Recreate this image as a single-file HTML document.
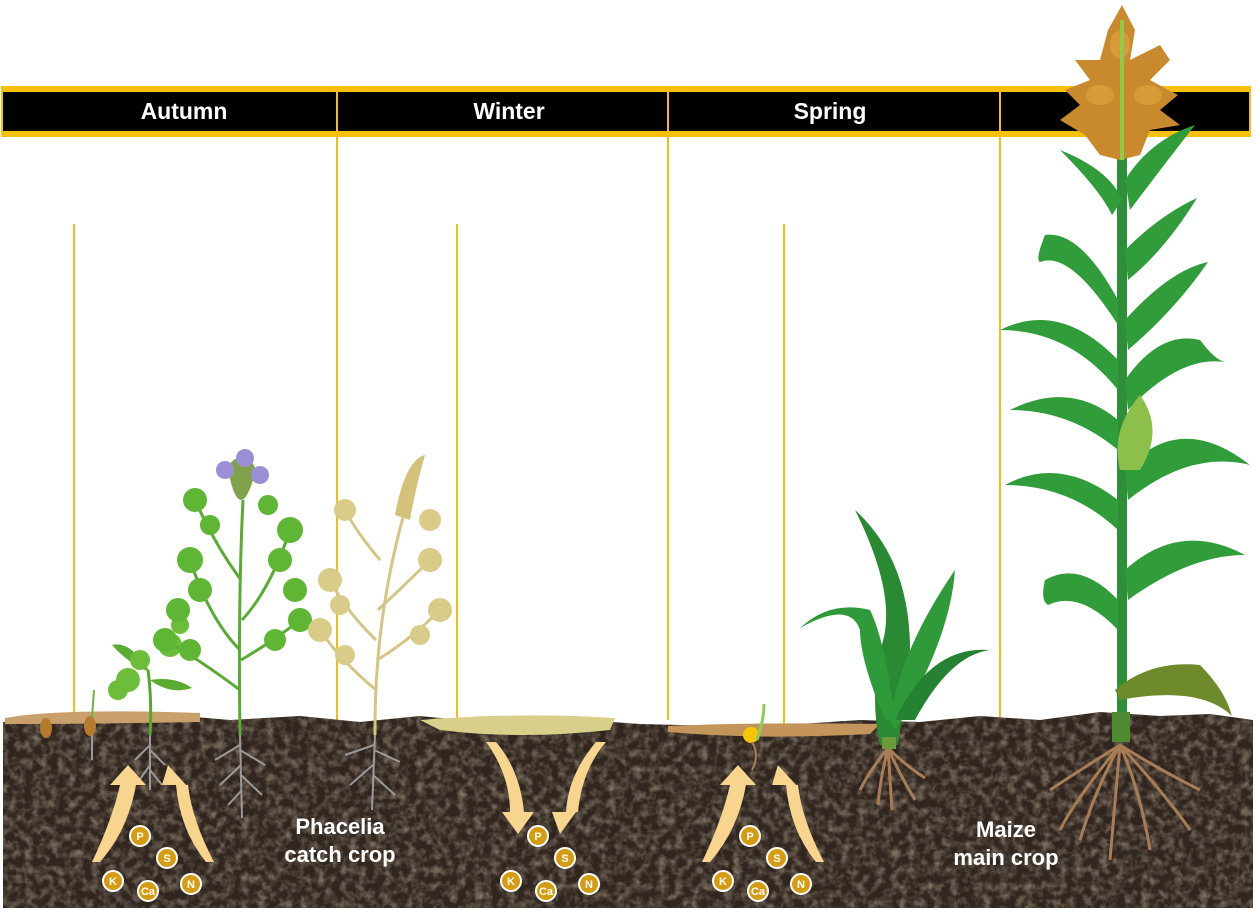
<!DOCTYPE html>
<html><head><meta charset="utf-8"><style>
html,body{margin:0;padding:0;background:#fff;width:1256px;height:911px;overflow:hidden}
svg{display:block}
text{font-family:"Liberation Sans",sans-serif;font-weight:bold}
</style></head><body>
<svg width="1256" height="911" viewBox="0 0 1256 911" xmlns="http://www.w3.org/2000/svg">
<defs>
<filter id="grain" x="0" y="0" width="100%" height="100%">
<feTurbulence type="fractalNoise" baseFrequency="0.12" numOctaves="4" seed="4"/>
<feColorMatrix values="0 0 0 0 0.30  0 0 0 0 0.24  0 0 0 0 0.18  0 0 0 1.8 -0.7"/>
</filter>
<clipPath id="soilclip"><path d="M3,722 L40,716 L100,718 L160,714 L230,720 L300,716 L360,722 L420,716 L480,722 L560,718 L640,724 L720,726 L800,724 L860,720 L920,722 L980,716 L1040,720 L1100,712 L1160,716 L1210,714 L1253,720 L1253,908 L3,908 Z"/></clipPath>
<g id="nut">
<circle cx="0" cy="0" r="10" fill="#d59c12" stroke="#fff" stroke-width="2"/>
</g>
</defs>
<!-- gold vertical lines -->
<g stroke="#f5bd0f" stroke-width="2">
<line x1="337" y1="92" x2="337" y2="720"/>
<line x1="668" y1="92" x2="668" y2="720"/>
<line x1="1000" y1="92" x2="1000" y2="720"/>
<line x1="74" y1="224" x2="74" y2="712"/>
<line x1="457" y1="224" x2="457" y2="720"/>
<line x1="784" y1="224" x2="784" y2="725"/>
</g>
<!-- header -->
<rect x="1" y="86" width="1250" height="51" fill="#f7bf0e"/>
<rect x="3" y="92" width="1246" height="39" fill="#000"/>
<g stroke="#f5bd0f" stroke-width="2"><line x1="337" y1="92" x2="337" y2="131"/><line x1="668" y1="92" x2="668" y2="131"/><line x1="1000" y1="92" x2="1000" y2="131"/></g>
<g fill="#fff" font-size="23" text-anchor="middle">
<text x="184" y="119">Autumn</text><text x="509" y="119">Winter</text><text x="830" y="119">Spring</text>
</g>
<!-- soil -->
<g clip-path="url(#soilclip)">
<rect x="3" y="700" width="1250" height="210" fill="#30261f"/>
<rect x="3" y="700" width="1250" height="210" filter="url(#grain)" opacity="0.9"/>
</g>
<!-- surface litter -->
<path d="M5,718 Q60,708 200,713 L200,722 Q80,724 5,724 Z" fill="#c9a06b"/>
<path d="M420,720 Q520,712 615,718 L610,730 Q520,740 440,730 Z" fill="#d8d08a"/>
<path d="M668,726 Q760,722 880,724 L870,734 Q760,740 668,732 Z" fill="#c4955a"/>
<!-- roots -->
<g stroke="#9a9a9a" stroke-width="2" fill="none">
<path d="M150,735 L150,790 M150,745 L135,760 M150,750 L165,765 M150,765 L138,782 M150,770 L162,785"/>
<path d="M240,735 L242,818 M240,745 L215,760 M240,750 L265,765 M241,765 L220,785 M241,775 L262,795 M242,790 L228,805"/>
<path d="M375,735 L372,810 M374,745 L345,755 M374,750 L400,762 M373,765 L350,785 M373,775 L395,795"/>
<path d="M92,730 L92,760"/>
</g>
<g stroke="#a87d55" stroke-width="3" fill="none">
<path d="M888,748 Q870,770 860,790 M888,748 Q880,780 878,805 M888,748 Q890,780 892,810 M888,748 Q900,775 915,800 M888,748 Q905,765 925,778"/>
<path d="M1120,745 Q1080,770 1050,790 M1120,745 Q1095,790 1080,840 M1120,745 Q1115,800 1110,860 M1120,745 Q1140,790 1150,850 M1120,745 Q1160,770 1200,790 M1120,745 Q1170,800 1190,830 M1120,745 Q1075,800 1060,830"/>
</g>
<!-- arrows -->
<g fill="#f8d58f">
<path d="M92,862 Q112,820 120,785 L110,785 L128,765 L146,785 L136,785 Q128,830 100,862 Z"/>
<path d="M206,862 Q180,830 176,785 L162,785 L168,765 L186,785 L188,785 Q192,820 214,862 Z"/>
<path d="M702,862 Q722,820 730,785 L720,785 L738,765 L756,785 L746,785 Q738,830 710,862 Z"/>
<path d="M816,862 Q790,830 786,785 L772,785 L778,765 L796,785 L798,785 Q802,820 824,862 Z"/>
<path d="M486,742 Q510,775 510,812 L502,812 L518,834 L534,812 L524,812 Q520,770 496,742 Z"/>
<path d="M596,742 Q568,775 566,812 L552,812 L560,834 L576,812 L578,812 Q582,770 606,742 Z"/>
</g>
<!-- nutrients -->
<g font-size="11" fill="#fff" text-anchor="middle">
<g><use href="#nut" x="140" y="836"/><text x="140" y="840">P</text><use href="#nut" x="167" y="858"/><text x="167" y="862">S</text><use href="#nut" x="113" y="881"/><text x="113" y="885">K</text><use href="#nut" x="148" y="891"/><text x="148" y="895">Ca</text><use href="#nut" x="191" y="884"/><text x="191" y="888">N</text></g>
<g transform="translate(398,0)"><use href="#nut" x="140" y="836"/><text x="140" y="840">P</text><use href="#nut" x="167" y="858"/><text x="167" y="862">S</text><use href="#nut" x="113" y="881"/><text x="113" y="885">K</text><use href="#nut" x="148" y="891"/><text x="148" y="895">Ca</text><use href="#nut" x="191" y="884"/><text x="191" y="888">N</text></g>
<g transform="translate(610,0)"><use href="#nut" x="140" y="836"/><text x="140" y="840">P</text><use href="#nut" x="167" y="858"/><text x="167" y="862">S</text><use href="#nut" x="113" y="881"/><text x="113" y="885">K</text><use href="#nut" x="148" y="891"/><text x="148" y="895">Ca</text><use href="#nut" x="191" y="884"/><text x="191" y="888">N</text></g>
</g>
<!-- labels -->
<g fill="#fff" font-size="22" text-anchor="middle">
<text x="340" y="834">Phacelia</text><text x="340" y="862">catch crop</text>
<text x="1006" y="837">Maize</text><text x="1006" y="865">main crop</text>
</g>
<!-- seeds -->
<ellipse cx="46" cy="728" rx="6" ry="10" fill="#b67a2e"/>
<ellipse cx="90" cy="726" rx="6" ry="10" fill="#b67a2e"/>
<path d="M92,718 L94,690" stroke="#6cb33f" stroke-width="2"/>
<!-- small seedling -->
<path d="M150,735 Q152,700 148,670" stroke="#58a52e" stroke-width="3" fill="none"/>
<path d="M150,672 Q130,640 112,645 Q130,665 150,672 Z M150,680 Q175,676 192,688 Q170,695 150,680 Z" fill="#5aab32"/>
<g fill="#6cbd3a"><circle cx="128" cy="680" r="12"/><circle cx="118" cy="690" r="10"/><circle cx="140" cy="660" r="10"/><circle cx="170" cy="645" r="12"/><circle cx="180" cy="625" r="9"/></g>
<!-- green phacelia -->
<g stroke="#5aab32" stroke-width="3" fill="none">
<path d="M240,735 Q238,600 243,500"/>
<path d="M240,650 Q210,620 190,560 M242,620 Q270,590 290,530 M241,580 Q215,545 195,500 M240,690 Q200,660 165,640 M241,660 Q275,640 300,620"/>
</g>
<g fill="#5fb534">
<circle cx="190" cy="560" r="13"/><circle cx="200" cy="590" r="12"/><circle cx="178" cy="610" r="12"/><circle cx="165" cy="640" r="12"/><circle cx="190" cy="650" r="11"/>
<circle cx="290" cy="530" r="13"/><circle cx="280" cy="560" r="12"/><circle cx="295" cy="590" r="12"/><circle cx="300" cy="620" r="12"/><circle cx="275" cy="640" r="11"/>
<circle cx="195" cy="500" r="12"/><circle cx="210" cy="525" r="10"/><circle cx="268" cy="505" r="10"/>
</g>
<path d="M228,470 Q240,530 256,470 Q250,455 242,460 Q232,455 228,470 Z" fill="#7fa24a"/>
<g fill="#9b8fd8"><circle cx="225" cy="470" r="9"/><circle cx="245" cy="458" r="9"/><circle cx="260" cy="475" r="9"/></g>
<!-- beige phacelia -->
<g stroke="#d4c582" stroke-width="3" fill="none">
<path d="M375,735 Q374,620 405,510"/>
<path d="M376,640 Q345,610 330,580 M378,610 Q410,580 430,560 M380,560 Q355,530 345,510 M376,690 Q340,660 320,630 M377,660 Q410,640 440,610"/>
</g>
<g fill="#d9cb88">
<circle cx="330" cy="580" r="12"/><circle cx="340" cy="605" r="10"/><circle cx="320" cy="630" r="12"/><circle cx="345" cy="655" r="10"/><circle cx="345" cy="510" r="11"/>
<circle cx="430" cy="560" r="12"/><circle cx="440" cy="610" r="12"/><circle cx="420" cy="635" r="10"/><circle cx="430" cy="520" r="11"/>
</g>
<path d="M395,515 Q405,460 425,455 Q415,490 410,520 Z" fill="#d4c17a"/>
<!-- sprouting corn seed -->
<circle cx="751" cy="735" r="8" fill="#f7c600"/>
<path d="M757,740 Q764,720 764,704" stroke="#8ccc5a" stroke-width="3" fill="none"/>
<path d="M752,742 Q760,755 752,770" stroke="#a87d55" stroke-width="2" fill="none"/>
<!-- young maize -->
<g fill="#2f9a3a">
<path d="M880,745 Q870,700 880,650 Q900,600 855,510 Q910,560 910,650 Q905,700 898,745 Z" fill="#2a8a33"/>
<path d="M890,720 Q900,650 955,570 Q950,640 895,730 Z"/>
<path d="M885,720 Q860,660 860,630 Q850,600 800,628 Q830,600 870,610 Q885,640 895,720 Z"/>
<path d="M895,720 Q930,645 990,650 Q950,655 915,720 Z" fill="#248232"/>
</g>
<rect x="882" y="737" width="14" height="12" fill="#6a9a3a"/>
<!-- big maize -->
<path d="M1117,740 L1117,140 L1127,140 L1127,740 Z" fill="#2e8f38"/>
<g fill="#319c3a">
<path d="M1122,200 Q1110,170 1060,150 Q1100,190 1112,215 Z"/>
<path d="M1125,180 Q1150,140 1195,125 Q1160,170 1130,210 Z"/>
<path d="M1118,300 Q1080,230 1045,235 Q1035,260 1040,262 Q1070,250 1118,325 Z"/>
<path d="M1125,250 Q1160,215 1197,198 Q1165,250 1128,280 Z"/>
<path d="M1118,360 Q1060,300 1000,330 Q1070,330 1118,390 Z"/>
<path d="M1125,320 Q1170,270 1208,262 Q1175,310 1128,350 Z"/>
<path d="M1118,420 Q1070,380 1010,410 Q1070,410 1118,450 Z"/>
<path d="M1125,380 Q1160,330 1200,340 Q1215,360 1225,362 Q1180,355 1128,410 Z"/>
<path d="M1118,500 Q1060,455 1005,485 Q1070,485 1118,530 Z"/>
<path d="M1125,470 Q1180,410 1250,465 Q1190,450 1128,500 Z"/>
<path d="M1118,600 Q1080,560 1045,580 Q1040,600 1048,605 Q1080,590 1118,630 Z"/>
<path d="M1125,570 Q1180,520 1245,555 Q1190,555 1128,600 Z"/>
</g>
<path d="M1115,690 Q1150,660 1200,665 Q1225,690 1232,716 Q1200,685 1120,700 Z" fill="#6e8a2a"/>
<path d="M1120,470 Q1110,430 1140,395 Q1165,430 1140,470 Z" fill="#8cc04a"/>
<rect x="1112" y="712" width="18" height="30" fill="#4e8a30"/>
<!-- tassel -->
<g fill="#c98a2e">
<path d="M1122,5 L1135,30 L1130,60 L1160,45 L1170,60 L1150,80 L1178,95 L1160,110 L1180,125 L1150,130 L1140,155 L1120,160 L1100,155 L1085,135 L1060,120 L1080,105 L1065,90 L1090,80 L1075,60 L1100,60 L1108,30 Z"/>
</g>
<g fill="#d99a3a"><ellipse cx="1100" cy="95" rx="14" ry="10"/><ellipse cx="1148" cy="95" rx="14" ry="10"/><ellipse cx="1120" cy="45" rx="10" ry="14"/></g>
<path d="M1122,20 L1122,160" stroke="#8ccc4a" stroke-width="4"/>
</svg>
</body></html>
